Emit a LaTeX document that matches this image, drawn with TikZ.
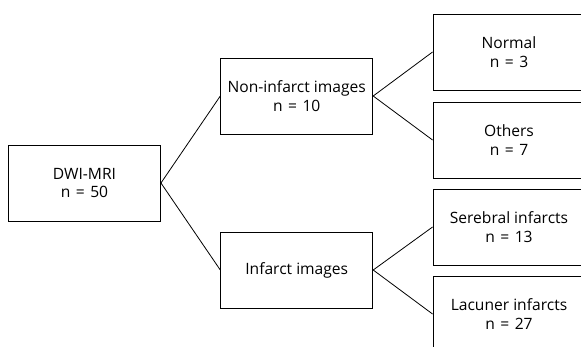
\documentclass[tikz,border=0pt]{standalone}
\usepackage{fontspec}
\setmainfont{Open Sans}
\newcommand{\eqsign}{\hspace{0.35em}=\hspace{0.35em}}
\begin{document}
\begin{tikzpicture}[x=1pt,y=-1pt,
  box/.style={draw,line width=0.9pt,minimum width=152pt,minimum height=76pt,inner sep=0pt,align=center,font=\fontsize{15.6}{18.5}\selectfont},
  link/.style={line width=0.8pt}]
\useasboundingbox (0,0) rectangle (581,346);
\clip (0,0) rectangle (581,346);
\node[box] (dwi) at (84.5,183) {DWI-MRI\\n\eqsign50};
\node[box] (non) at (296.75,96) {Non-infarct images\\n\eqsign10};
\node[box] (inf) at (296.75,270) {Infarct images};
\node[box] (nor) at (509,52) {Normal\\n\eqsign3};
\node[box] (oth) at (509,140) {Others\\n\eqsign7};
\node[box] (ser) at (509,227) {Serebral infarcts\\n\eqsign13};
\node[box] (lac) at (509,314) {Lacuner infarcts\\n\eqsign27};
\draw[link] (dwi.east) -- (non.west);
\draw[link] (dwi.east) -- (inf.west);
\draw[link] (non.east) -- (nor.west);
\draw[link] (non.east) -- (oth.west);
\draw[link] (inf.east) -- (ser.west);
\draw[link] (inf.east) -- (lac.west);
\end{tikzpicture}
\end{document}
